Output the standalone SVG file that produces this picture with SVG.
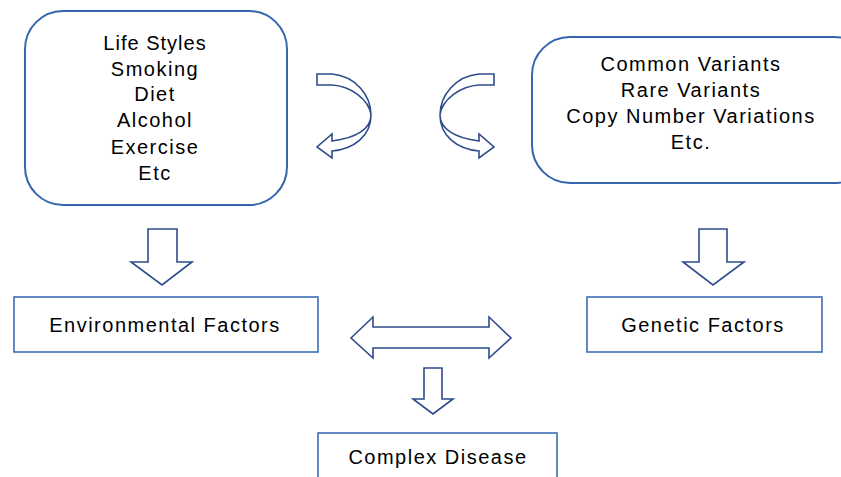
<svg xmlns="http://www.w3.org/2000/svg" width="841" height="477" viewBox="0 0 841 477">
<style>
.rbox{fill:#fff;stroke:#3566ad;stroke-width:2}
.box{fill:#fff;stroke:#3e6db3;stroke-width:1.6}
.arr{fill:#fff;stroke:#2e4b8c;stroke-width:1.6;stroke-linejoin:miter}
text{font-family:"Liberation Sans","Open Sans",sans-serif;font-size:20px;letter-spacing:1.5px;fill:#000;text-anchor:middle}
</style>
<rect width="841" height="477" fill="#fff"/>
<g id="lifestyles">
<rect class="rbox" x="25" y="11" width="262" height="194" rx="38" ry="38"/>
<text x="155" y="50" style="letter-spacing:1px">Life Styles</text>
<text x="155" y="76">Smoking</text>
<text x="155" y="101">Diet</text>
<text x="155" y="127">Alcohol</text>
<text x="155" y="154">Exercise</text>
<text x="155" y="180">Etc</text>
</g>
<g id="variants">
<rect class="rbox" x="532" y="37" width="340" height="146" rx="38" ry="38"/>
<text x="691" y="71">Common Variants</text>
<text x="691" y="97">Rare Variants</text>
<text x="691" y="123">Copy Number Variations</text>
<text x="691" y="149">Etc.</text>
</g>
<g id="environmental">
<rect class="box" x="14" y="297" width="304" height="55"/>
<text x="165" y="332">Environmental Factors</text>
</g>
<g id="genetic">
<rect class="box" x="587" y="297" width="235" height="55"/>
<text x="703" y="332">Genetic Factors</text>
</g>
<g id="complex">
<rect class="box" x="318" y="433" width="239" height="60"/>
<text x="438" y="464">Complex Disease</text>
</g>
<g id="connectors">
<path id="curve-left" class="arr" d="M317,74 L332,74 C355,76 371,95 371,115 C371,129 356,138 332,141 L332,134 L317,147 L332,158 L332,151 C354,149 371,136 371,115 C369,99 350,86 332,85 L317,85 Z"/>
<path id="curve-right" class="arr" transform="translate(811,0) scale(-1,1)" d="M317,74 L332,74 C355,76 371,95 371,115 C371,129 356,138 332,141 L332,134 L317,147 L332,158 L332,151 C354,149 371,136 371,115 C369,99 350,86 332,85 L317,85 Z"/>
<path id="down-left" class="arr" d="M148,229 L177,229 L177,262 L192,262 L162,285 L131,262 L148,262 Z"/>
<path id="down-right" class="arr" d="M699,229 L727,229 L727,262 L744,262 L713,285 L683,262 L699,262 Z"/>
<path id="double" class="arr" d="M351,338 L373,317 L373,327 L489,327 L489,317 L511,338 L489,358 L489,348 L373,348 L373,358 Z"/>
<path id="down-center" class="arr" d="M424,368 L442,368 L442,399 L453,399 L433,414 L413,399 L424,399 Z"/>
</g>
</svg>
